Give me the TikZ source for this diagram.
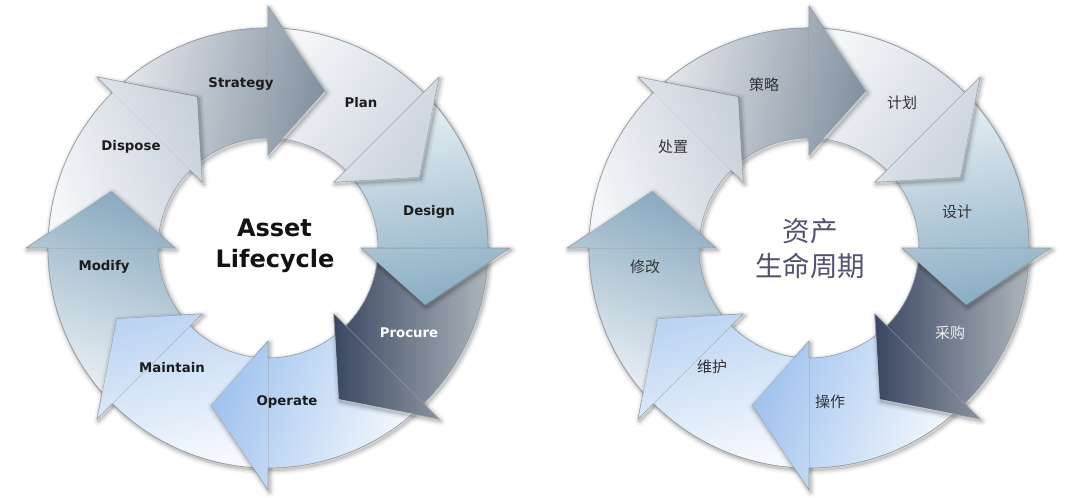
\documentclass[tikz,border=0pt]{standalone}
\usepackage{fontspec}
\setmainfont{DejaVu Sans}
\newfontfamily\cjkfont{Noto Sans CJK SC}
\definecolor{edgecol}{HTML}{959DA5}
\definecolor{ringcol}{HTML}{F0F2F4}
\definecolor{ringline}{HTML}{A3AAB2}
\definecolor{cStratA}{HTML}{E8EBEE}\definecolor{cStratB}{HTML}{8391A0}
\definecolor{cPlanA}{HTML}{F5F7F9}\definecolor{cPlanB}{HTML}{CCD4DD}
\definecolor{cDesA}{HTML}{EAF1F5}\definecolor{cDesB}{HTML}{8AAEC4}
\definecolor{cProcA}{HTML}{3B4762}\definecolor{cProcB}{HTML}{ADB5BB}
\definecolor{cOperA}{HTML}{9FC2EE}\definecolor{cOperB}{HTML}{F8FBFE}
\definecolor{cMaintA}{HTML}{BCD4F2}\definecolor{cMaintB}{HTML}{F7FAFD}
\definecolor{cModA}{HTML}{89AAC0}\definecolor{cModB}{HTML}{EEF2F5}
\definecolor{cDispA}{HTML}{F5F7F9}\definecolor{cDispB}{HTML}{C9D1DA}
\definecolor{txtcol}{HTML}{1C1C1C}
\definecolor{cjktxt}{HTML}{333338}
\definecolor{cjkctr}{HTML}{52526F}
\newcommand\rOut{220}
\newcommand\rIn{110}
\newcommand\rMid{167}
\newcommand\wOut{242}
\newcommand\wIn{93}
% full arrow (body + head); #1 = angle of head base, body spans #1..#1+45
\newcommand\ArrShape[1]{(#1+45:\rOut) arc[start angle=#1+45, end angle=#1, radius=\rOut] -- (#1:\wOut) -- (#1-20:\rMid) -- (#1:\wIn) -- (#1:\rIn) arc[start angle=#1, end angle=#1+45, radius=\rIn] -- cycle}
\newcommand\HeadTri[1]{(#1:\wOut) -- (#1-20:\rMid) -- (#1:\wIn) -- cycle}
\newcommand\InvTri[1]{(-1000,-1000) -- (1000,-1000) -- (1000,1000) -- (-1000,1000) -- cycle (#1:\wOut) -- (#1-20:\rMid) -- (#1:\wIn) -- cycle}
\newcommand\SoftStroke[1]{\foreach \sWd/\sOp in {10/0.03,7/0.045,4.5/0.06,2.2/0.09}{\draw[line width=\sWd pt, draw opacity=\sOp, line join=round, black] #1;}}
\newcommand\OneArrow[2]{\begin{scope}\clip \InvTri{#1+45};\shadedraw[#2, draw=edgecol, line width=0.6pt, line join=round] \ArrShape{#1};\end{scope}}
\newcommand\HeadShadow[1]{\begin{scope}\clip (#1:\rOut) arc[start angle=#1, end angle=#1-45, radius=\rOut] -- (#1-45:\rIn) arc[start angle=#1-45, end angle=#1, radius=\rIn] -- cycle;\clip \InvTri{#1};\begin{scope}[shift={(1.5,-2)}]\SoftStroke{\HeadTri{#1}}\end{scope}\end{scope}}
\newcommand\CycleDiagram{%
  \fill[ringcol, even odd rule] (0,0) circle[radius=\rOut] (0,0) circle[radius=\rIn];
  \draw[ringline, line width=0.6pt] (0,0) circle[radius=\rOut];
  \foreach \b in {90,45,0,-45,-90,-135,180,135}{\begin{scope}[shift={(1.5,-2)}]\SoftStroke{\ArrShape{\b}}\end{scope}}
  \OneArrow{90}{sStrat}
  \OneArrow{45}{sPlan}
  \OneArrow{0}{sDesign}
  \OneArrow{-45}{sProc}
  \OneArrow{-90}{sOper}
  \OneArrow{-135}{sMaint}
  \OneArrow{180}{sMod}
  \OneArrow{135}{sDisp}
  \foreach \b in {90,45,0,-45,-90,-135,180,135}{\HeadShadow{\b}}
}
\tikzset{
  sStrat/.style={top color=cStratA, bottom color=cStratB, shading angle=80},
  sPlan/.style={top color=cPlanA, bottom color=cPlanB, shading angle=55},
  sDesign/.style={top color=cDesA, bottom color=cDesB, shading angle=10},
  sProc/.style={top color=cProcA, bottom color=cProcB, shading angle=90},
  sOper/.style={top color=cOperA, bottom color=cOperB, shading angle=70},
  sMaint/.style={top color=cMaintA, bottom color=cMaintB, shading angle=15},
  sMod/.style={top color=cModA, bottom color=cModB, shading angle=-20},
  sDisp/.style={top color=cDispA, bottom color=cDispB, shading angle=110},
  lbl/.style={text=txtcol, font=\fontsize{13.3}{16}\selectfont\bfseries, inner sep=0pt},
  ctr/.style={text=black!93, font=\fontsize{24}{30}\selectfont\bfseries, inner sep=0pt},
  clbl/.style={text=cjktxt, font=\cjkfont\fontsize{15}{18}\selectfont, inner sep=0pt},
  cctr/.style={text=cjkctr, font=\cjkfont\fontsize{27.5}{33}\selectfont, inner sep=0pt},
}
\begin{document}
\begin{tikzpicture}[x=1pt,y=1pt]
\useasboundingbox (0,0) rectangle (1080,-498);
\fill[white] (0,0) rectangle (1080,-498);
\begin{scope}[shift={(268,-248)}]
  \CycleDiagram
\end{scope}
\begin{scope}[shift={(809,-248)}]
  \CycleDiagram
\end{scope}
% left labels
\node[lbl] (strategy) at (241,-84) {Strategy};
\node[lbl] (plan) at (361,-103) {Plan};
\node[lbl] (design) at (429,-212) {Design};
\node[lbl, text=white] (procure) at (409,-333) {Procure};
\node[lbl] (operate) at (287,-402) {Operate};
\node[lbl] (maintain) at (172,-368) {Maintain};
\node[lbl] (modify) at (104,-267) {Modify};
\node[lbl] (dispose) at (131,-147) {Dispose};
\node[ctr, anchor=base] (asset) at (274.5,-236) {Asset};
\node[ctr, anchor=base] (lifecycle) at (275,-267) {Lifecycle};
% right labels
\node[clbl] (celue) at (764,-85) {策略};
\node[clbl] (jihua) at (902,-103) {计划};
\node[clbl] (sheji) at (957,-212) {设计};
\node[clbl, text=white!94!black] (caigou) at (950,-333) {采购};
\node[clbl] (caozuo) at (830,-402) {操作};
\node[clbl] (weihu) at (712,-367) {维护};
\node[clbl] (xiugai) at (645,-267) {修改};
\node[clbl] (chuzhi) at (673,-147) {处置};
\node[cctr] (zichan) at (810,-231.5) {资产};
\node[cctr] (shengming) at (810,-265.5) {生命周期};
\end{tikzpicture}
\end{document}
